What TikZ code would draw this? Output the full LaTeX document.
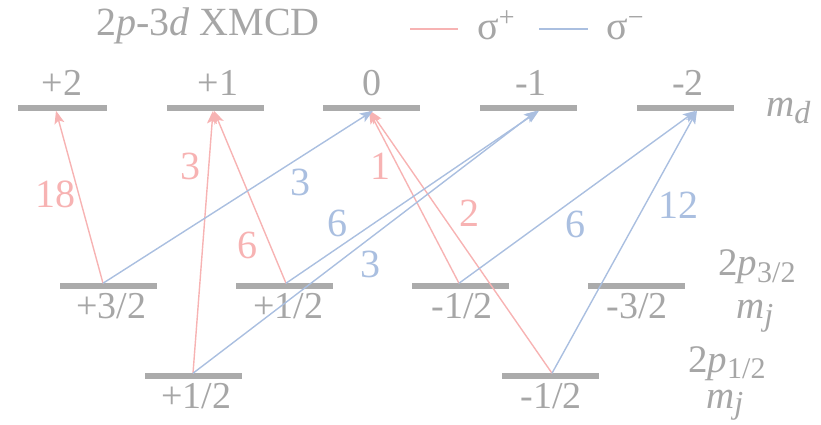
\documentclass[tikz,border=0pt]{standalone}
\usepackage{fontspec}
\setmainfont{Liberation Serif}
\usetikzlibrary{arrows.meta}
\definecolor{lvl}{HTML}{ABABAB}
\definecolor{txt}{HTML}{A6A6A6}
\definecolor{sp}{HTML}{F7B3B3}
\definecolor{sm}{HTML}{AABFE0}
\begin{document}
\begin{tikzpicture}[x=1pt,y=-1pt,
  lvlbar/.style={fill=lvl,minimum width=97pt,minimum height=5.5pt,inner sep=0pt,outer sep=0pt},
  lbl/.style={text=txt,font=\fontsize{38}{38}\selectfont,inner sep=0pt,anchor=base},
  plbl/.style={text=sp,font=\fontsize{40}{40}\selectfont,inner sep=0pt},
  mlbl/.style={text=sm,font=\fontsize{40}{40}\selectfont,inner sep=0pt},
  side/.style={text=txt,font=\fontsize{39}{39}\selectfont,inner sep=0pt,anchor=base west},
  tip/.style={-{Stealth[length=13pt,width=10pt,inset=3pt]}},
  splus/.style={draw=sp,line width=1.4pt,tip},
  sminus/.style={draw=sm,line width=1.4pt,tip}]
\path[use as bounding box] (0,0) rectangle (821,424);

% title and legend
\node[text=txt,font=\fontsize{40}{40}\selectfont,anchor=base west,inner sep=0pt] (title) at (96,35) {2\textit{p}-3\textit{d} XMCD};
\coordinate (lpa) at (410,29); \coordinate (lpb) at (458,29);
\coordinate (lma) at (539,29); \coordinate (lmb) at (588,29);
\draw[sp,line width=1.6pt] (lpa) -- (lpb);
\draw[sm,line width=1.6pt] (lma) -- (lmb);
\node[text=txt,font=\fontsize{40}{40}\selectfont,anchor=base west,inner sep=0pt] (lgp) at (477,39) {σ\raisebox{13pt}{\fontsize{28}{28}\selectfont +}};
\node[text=txt,font=\fontsize{40}{40}\selectfont,anchor=base west,inner sep=0pt] (lgm) at (606,39) {σ\raisebox{13pt}{\fontsize{28}{28}\selectfont −}};

% 3d levels
\node[lvlbar,minimum width=89pt] (d2) at (62.5,108) {};
\node[lvlbar] (d1) at (215.5,108) {};
\node[lvlbar] (d0) at (371.5,108) {};
\node[lvlbar] (dm1) at (528.5,108) {};
\node[lvlbar] (dm2) at (685,108) {};
\node[lbl] (t2) at (62,95) {+2};
\node[lbl] (t1) at (218,95) {+1};
\node[lbl] (t0) at (372,95) {0};
\node[lbl] (tm1) at (531,95) {-1};
\node[lbl] (tm2) at (688,95) {-2};
\node[side] (md) at (766,116) {\itshape m\raisebox{-7pt}{\fontsize{32}{32}\selectfont d}};

% 2p3/2 levels
\node[lvlbar] (a32) at (108,286) {};
\node[lvlbar] (a12) at (284,286) {};
\node[lvlbar] (am12) at (460,286) {};
\node[lvlbar] (am32) at (636,286) {};
\node[lbl] (ta32) at (111,318) {+3/2};
\node[lbl] (ta12) at (288,318) {+1/2};
\node[lbl] (tam12) at (462,318) {-1/2};
\node[lbl] (tam32) at (637,318) {-3/2};
\node[side] (p32) at (718,275) {2\textit{p}\raisebox{-7pt}{\fontsize{30}{30}\selectfont 3/2}};
\node[side] (mj1) at (736,318) {\itshape m\raisebox{-7pt}{\fontsize{32}{32}\selectfont j}};

% 2p1/2 levels
\node[lvlbar] (b12) at (193.5,376) {};
\node[lvlbar] (bm12) at (550,376) {};
\node[lbl] (tb12) at (196,408) {+1/2};
\node[lbl] (tbm12) at (551,408) {-1/2};
\node[side] (p12) at (688,372) {2\textit{p}\raisebox{-6pt}{\fontsize{30}{30}\selectfont 1/2}};
\node[side] (mj2) at (706,408) {\itshape m\raisebox{-5pt}{\fontsize{32}{32}\selectfont j}};

% sigma+ transitions
\draw[splus] ([xshift=-5pt]a32.north) -- ([xshift=-6.5pt]d2.south);
\draw[splus] ([xshift=-0.5pt]b12.north) -- ([xshift=-2.5pt]d1.south);
\draw[splus] ([xshift=2pt]a12.north) -- ([xshift=-1.5pt]d1.south);
\draw[splus] ([xshift=-1pt]am12.north) -- ([xshift=-2.5pt]d0.south);
\draw[splus] ([xshift=2pt]bm12.north) -- ([xshift=-1.5pt]d0.south);
% sigma- transitions
\draw[sminus] ([xshift=-5pt]a32.north) -- ([xshift=1.5pt]d0.south);
\draw[sminus] ([xshift=2pt]a12.north) -- ([xshift=10.5pt]dm1.south);
\draw[sminus] ([xshift=-0.5pt]b12.north) -- ([xshift=8.5pt]dm1.south);
\draw[sminus] ([xshift=-1pt]am12.north) -- ([xshift=11pt]dm2.south);
\draw[sminus] ([xshift=2pt]bm12.north) -- ([xshift=12pt]dm2.south);

% intensities
\node[plbl] (n18) at (55,194) {18};
\node[plbl] (n3a) at (190,166) {3};
\node[plbl] (n6a) at (247,245) {6};
\node[plbl] (n1) at (380,166) {1};
\node[plbl] (n2) at (469,213) {2};
\node[mlbl] (n3b) at (300,182) {3};
\node[mlbl] (n6b) at (337,223) {6};
\node[mlbl] (n3c) at (370,264) {3};
\node[mlbl] (n6c) at (575,224) {6};
\node[mlbl] (n12) at (678,205) {12};
\end{tikzpicture}
\end{document}
